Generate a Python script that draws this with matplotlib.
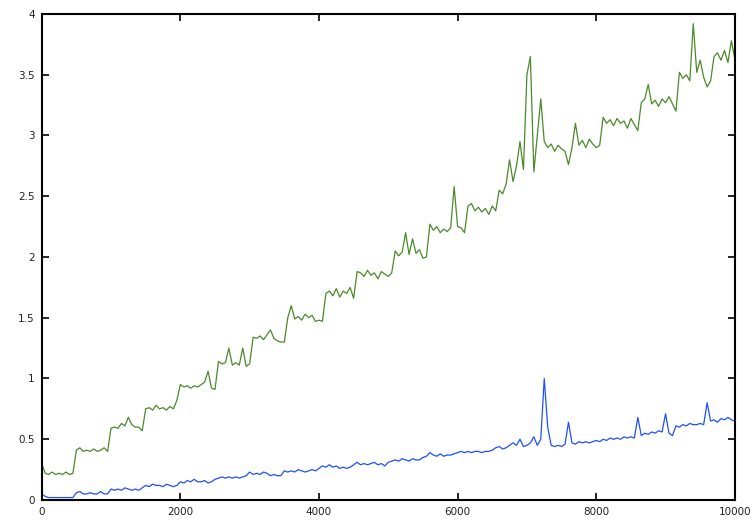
import numpy as np
import matplotlib
matplotlib.use("Agg")
import matplotlib.pyplot as plt
from matplotlib.ticker import FormatStrFormatter, FuncFormatter

# samples every 50 steps, rows of 10 values = 500 steps each
STEP = 50

green_vals = [
    0.30, 0.22, 0.21, 0.23, 0.21, 0.22, 0.21, 0.23, 0.21, 0.22,
    0.41, 0.43, 0.40, 0.41, 0.40, 0.42, 0.40, 0.41, 0.43, 0.40,
    0.59, 0.60, 0.59, 0.63, 0.61, 0.68, 0.62, 0.60, 0.60, 0.57,
    0.75, 0.76, 0.74, 0.78, 0.75, 0.76, 0.74, 0.77, 0.75, 0.82,
    0.95, 0.93, 0.94, 0.92, 0.94, 0.93, 0.95, 0.97, 1.06, 0.92,
    0.91, 1.14, 1.12, 1.13, 1.25, 1.11, 1.13, 1.11, 1.25, 1.10,
    1.12, 1.34, 1.33, 1.35, 1.32, 1.36, 1.40, 1.33, 1.31, 1.30,
    1.30, 1.50, 1.60, 1.49, 1.51, 1.48, 1.53, 1.50, 1.52, 1.47,
    1.48, 1.47, 1.70, 1.72, 1.68, 1.74, 1.67, 1.72, 1.70, 1.75,
    1.66, 1.88, 1.87, 1.84, 1.89, 1.85, 1.87, 1.82, 1.88, 1.86,
    1.84, 1.87, 2.05, 2.01, 2.04, 2.20, 2.02, 2.15, 2.03, 2.06,
    1.99, 2.00, 2.27, 2.22, 2.25, 2.20, 2.23, 2.21, 2.24, 2.58,
    2.25, 2.24, 2.20, 2.42, 2.44, 2.38, 2.41, 2.37, 2.40, 2.35,
    2.42, 2.38, 2.55, 2.52, 2.60, 2.80, 2.62, 2.75, 2.95, 2.72,
    3.50, 3.65, 2.70, 3.00, 3.30, 2.95, 2.90, 2.93, 2.87, 2.92,
    2.89, 2.87, 2.76, 2.90, 3.10, 2.92, 2.96, 2.90, 2.97, 2.93,
    2.90, 2.92, 3.15, 3.10, 3.13, 3.08, 3.14, 3.10, 3.12, 3.06,
    3.14, 3.09, 3.04, 3.27, 3.30, 3.42, 3.26, 3.29, 3.24, 3.30,
    3.27, 3.32, 3.26, 3.20, 3.52, 3.47, 3.50, 3.45, 3.92, 3.52,
    3.62, 3.48, 3.40, 3.45, 3.65, 3.68, 3.62, 3.70, 3.60, 3.78,
    3.63,
]

blue_vals = [
    0.05, 0.03, 0.02, 0.02, 0.02, 0.02, 0.02, 0.02, 0.02, 0.02,
    0.06, 0.07, 0.05, 0.05, 0.06, 0.05, 0.05, 0.07, 0.05, 0.05,
    0.09, 0.08, 0.09, 0.08, 0.10, 0.09, 0.08, 0.09, 0.08, 0.10,
    0.12, 0.11, 0.13, 0.12, 0.12, 0.11, 0.13, 0.12, 0.11, 0.12,
    0.15, 0.14, 0.16, 0.15, 0.17, 0.15, 0.15, 0.16, 0.14, 0.15,
    0.17, 0.18, 0.19, 0.18, 0.19, 0.18, 0.19, 0.18, 0.19, 0.20,
    0.23, 0.21, 0.22, 0.21, 0.23, 0.22, 0.20, 0.21, 0.20, 0.20,
    0.24, 0.23, 0.24, 0.23, 0.25, 0.24, 0.23, 0.24, 0.25, 0.24,
    0.26, 0.28, 0.27, 0.29, 0.27, 0.28, 0.26, 0.27, 0.26, 0.27,
    0.29, 0.31, 0.29, 0.30, 0.29, 0.30, 0.31, 0.29, 0.30, 0.28,
    0.31, 0.32, 0.33, 0.32, 0.34, 0.33, 0.32, 0.34, 0.33, 0.33,
    0.35, 0.36, 0.39, 0.37, 0.36, 0.38, 0.36, 0.37, 0.37, 0.38,
    0.39, 0.40, 0.39, 0.40, 0.39, 0.40, 0.40, 0.39, 0.40, 0.40,
    0.41, 0.43, 0.44, 0.42, 0.43, 0.45, 0.47, 0.45, 0.50, 0.44,
    0.45, 0.47, 0.52, 0.45, 0.50, 1.00, 0.60, 0.45, 0.44, 0.45,
    0.44, 0.46, 0.64, 0.47, 0.46, 0.48, 0.47, 0.48, 0.47, 0.48,
    0.49, 0.48, 0.50, 0.49, 0.51, 0.50, 0.51, 0.50, 0.52, 0.51,
    0.52, 0.51, 0.68, 0.53, 0.55, 0.54, 0.56, 0.55, 0.57, 0.56,
    0.71, 0.55, 0.53, 0.61, 0.60, 0.62, 0.61, 0.63, 0.62, 0.62,
    0.63, 0.62, 0.80, 0.65, 0.66, 0.64, 0.67, 0.66, 0.68, 0.66,
    0.65,
]

x_ticks = [0, 2000, 4000, 6000, 8000, 10000]
y_ticks = [0, 0.5, 1, 1.5, 2, 2.5, 3, 3.5, 4]

x = np.arange(len(green_vals)) * STEP

fig = plt.figure(figsize=(7.53, 5.30), dpi=100)
ax = fig.add_axes([0.0554, 0.0566, 0.9205, 0.917])

ax.plot(x, green_vals, "-", color="#4a8a2a", lw=0.9)
ax.plot(x, blue_vals, "-", color="#1f4fff", lw=0.9)

ax.set_xlim(0, 10000)
ax.set_ylim(0, 4)
ax.set_xticks(x_ticks)
ax.set_yticks(y_ticks)
ax.yaxis.set_major_formatter(FuncFormatter(lambda v, p: f"{v:g}"))

ax.tick_params(direction="in", length=5, width=1.2, top=True, right=True,
               labelsize=7.5, labelcolor="#222222", pad=5)
for s in ax.spines.values():
    s.set_linewidth(1.5)

plt.savefig("out.png", dpi=100)
